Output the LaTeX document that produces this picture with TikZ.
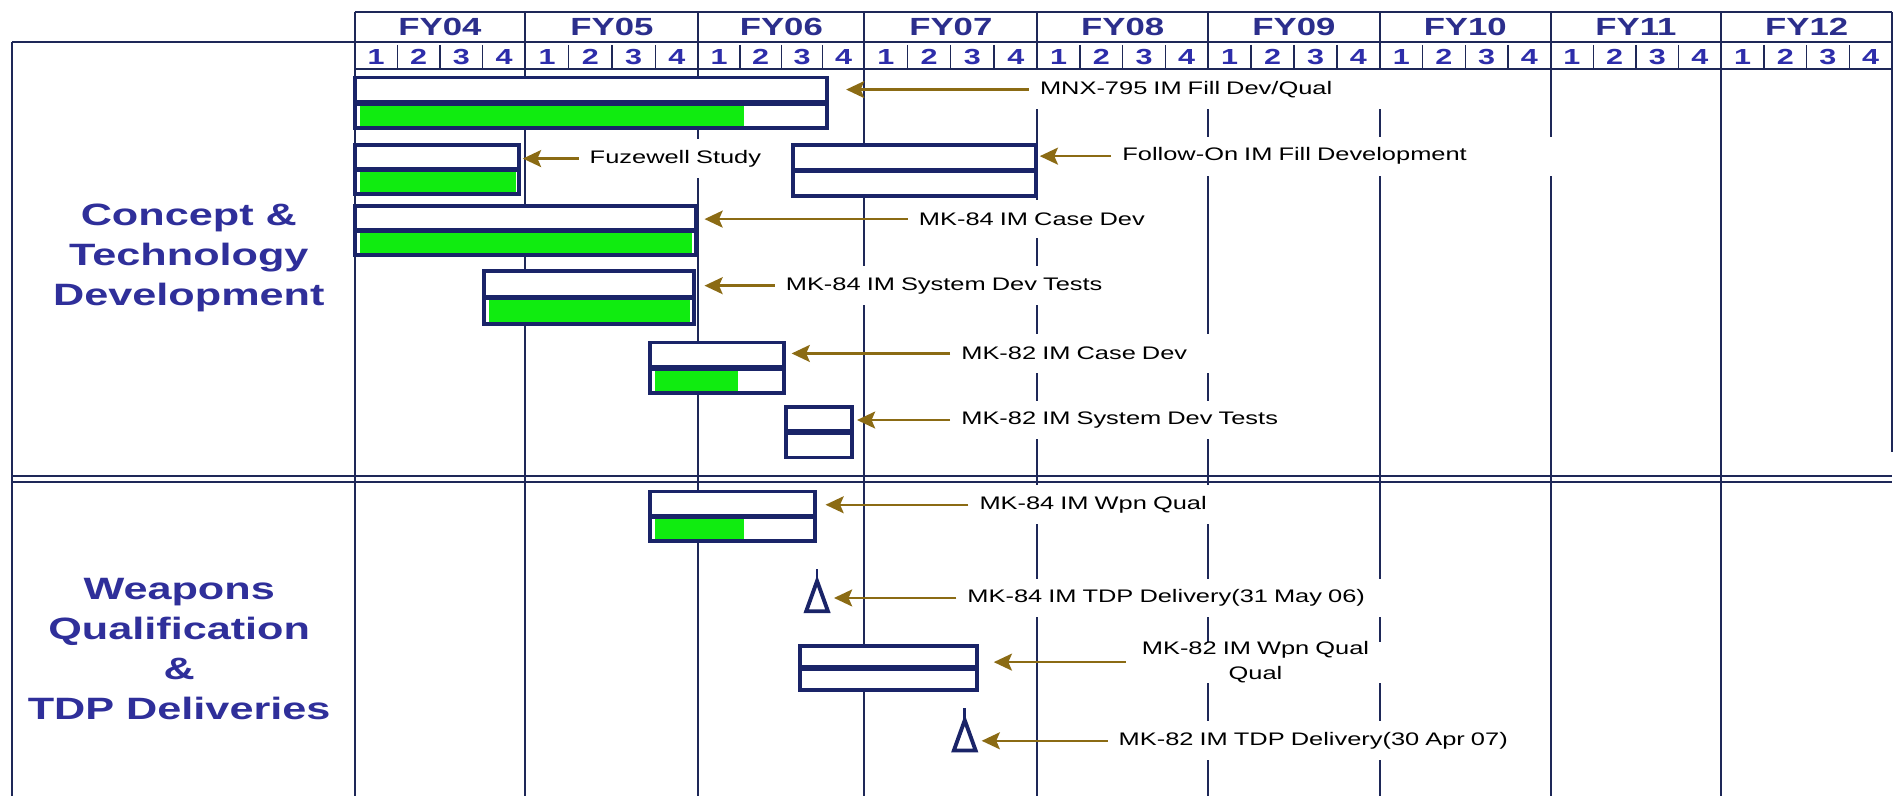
\documentclass[tikz,border=0pt]{standalone}
\usepackage{fontspec}
\setmainfont{Liberation Sans}[FakeStretch=1.4]
\usetikzlibrary{arrows.meta}
\definecolor{gridc}{RGB}{30,40,88}
\definecolor{boxc}{RGB}{26,36,104}
\definecolor{fyc}{RGB}{43,46,140}
\definecolor{qc}{RGB}{45,45,170}
\definecolor{secc}{RGB}{47,47,154}
\definecolor{barg}{RGB}{16,236,16}
\definecolor{arrc}{RGB}{139,107,20}
\newcommand{\gbar}[6]{%
  \fill[white] (#2,#4) rectangle (#3,#5);
  \ifnum#6>0 \fill[barg] ({#2+4},{(#4+#5)/2+1}) rectangle (#6,{#5-1});\fi
  \draw[bar] (#2,#4) rectangle (#3,#5);
  \draw[bar, line width=4.5pt] (#2,{(#4+#5)/2}) -- (#3,{(#4+#5)/2});
}
\newcommand{\mstone}[2]{%
  \draw[bar, line width=3.2pt, fill=white, line join=miter] ({#1-9},#2) -- ({#1+9},#2) -- (#1,{#2-25}) -- cycle;
  \draw[boxc, line width=2.2pt] (#1,{#2-25}) -- (#1,{#2-35});
}
\begin{document}
\begin{tikzpicture}[x=1pt,y=-1pt,
  grid/.style={draw=gridc, line width=1.6pt},
  qsep/.style={draw=gridc, line width=1.1pt},
  bar/.style={draw=boxc, line width=3.2pt},
  lab/.style={font=\fontsize{15}{18}\selectfont, text=black, fill=white, anchor=west, inner xsep=9pt, inner ysep=0pt, minimum height=32pt, align=left},
  arr/.style={draw=arrc, line width=2pt, -{Stealth[length=15pt,width=14pt,inset=3pt]}},
  fy/.style={font=\fontsize{20.5}{22}\selectfont\bfseries, text=fyc},
  qn/.style={font=\fontsize{18}{20}\selectfont\bfseries, text=qc, inner sep=0pt},
  sec/.style={font=\fontsize{25.5}{33}\selectfont\bfseries, text=secc, align=center}]
\useasboundingbox[fill=white] (0,0) rectangle (1568,658);
% grid
\foreach \x in {293,434,577,714,857,998,1140,1281,1422} \draw[grid] (\x,10) -- (\x,658);
\draw[grid] (1563,10) -- (1563,373);
\draw[grid] (293,10) -- (1563,10);
\draw[grid] (10,35) -- (1563,35);
\draw[grid] (293,57) -- (1563,57);
\draw[grid] (10,35) -- (10,658);
\draw[grid] (10,393) -- (1563,393);
\draw[grid] (10,398) -- (1563,398);
% header
\foreach \a/\b/\fy [count=\i] in {293/434/FY04, 434/577/FY05, 577/714/FY06, 714/857/FY07, 857/998/FY08, 998/1140/FY09, 1140/1281/FY10, 1281/1422/FY11, 1422/1563/FY12} {
  \node[fy] (fy\i) at ({(\a+\b)/2},22) {\fy};
  \foreach \q in {1,2,3,4} \node[qn] (q\i-\q) at ({\a+(\b-\a)*(\q-0.5)/4},47) {\q};
  \foreach \q in {1,2,3} \draw[qsep] ({\a+(\b-\a)*\q/4},37) -- ({\a+(\b-\a)*\q/4},57);
}
% section labels
\node[sec] (s1) at (156,213) {Concept \&\\Technology\\Development};
\node[sec] (s2) at (148,536.5) {Weapons\\Qualification\\\&\\TDP Deliveries};
% labels (white text boxes)
\node[lab, text width=292pt] (l1) at (850,74) {MNX-795 IM Fill Dev/Qual};
\node[lab, text width=152pt] (l2) at (478,131) {Fuzewell Study};
\node[lab, text width=357pt] (l3) at (918,129) {Follow-On IM Fill Development};
\node[lab, text width=192pt] (l4) at (750,181) {MK-84 IM Case Dev};
\node[lab, text width=272pt] (l5) at (640,236) {MK-84 IM System Dev Tests};
\node[lab, text width=207pt] (l6) at (785,292) {MK-82 IM Case Dev};
\node[lab, text width=272pt] (l7) at (785,347) {MK-82 IM System Dev Tests};
\node[lab, text width=192pt] (l8) at (800,417) {MK-84 IM Wpn Qual};
\node[lab, text width=342pt] (l9) at (790,494) {MK-84 IM TDP Delivery(31 May 06)};
\node[lab, align=center, text width=196pt, font=\fontsize{15}{20}\selectfont] (l10) at (930,547) {MK-82 IM Wpn Qual\\Qual};
\node[lab, text width=337pt] (l11) at (915,612) {MK-82 IM TDP Delivery(30 Apr 07)};
% bars
\gbar{b1}{293}{683}{64}{106}{615}
\gbar{b2}{293}{429}{120}{160}{426}
\gbar{b3}{655}{856}{120}{162}{0}
\gbar{b4}{293}{575}{170}{211}{572}
\gbar{b5}{400}{573}{224}{268}{570}
\gbar{b6}{537}{648}{283}{325}{610}
\gbar{b7}{649}{704}{336}{378}{0}
\gbar{b8}{537}{673}{406}{447}{615}
\gbar{b10}{661}{807}{534}{570}{0}
\mstone{675}{505}
\mstone{797}{620}
% arrow targets
\coordinate (t1) at (699,74);
\coordinate (t2) at (432,131);
\coordinate (t3) at (859,129);
\coordinate (t4) at (582,181);
\coordinate (t5) at (582,236);
\coordinate (t6) at (654,292);
\coordinate (t7) at (708,347);
\coordinate (t8) at (682,417);
\coordinate (t9) at (689,494);
\coordinate (t10) at (821,547);
\coordinate (t11) at (811,612);
\foreach \i in {1,...,11} \draw[arr] (l\i.west) -- (t\i);
\end{tikzpicture}
\end{document}
